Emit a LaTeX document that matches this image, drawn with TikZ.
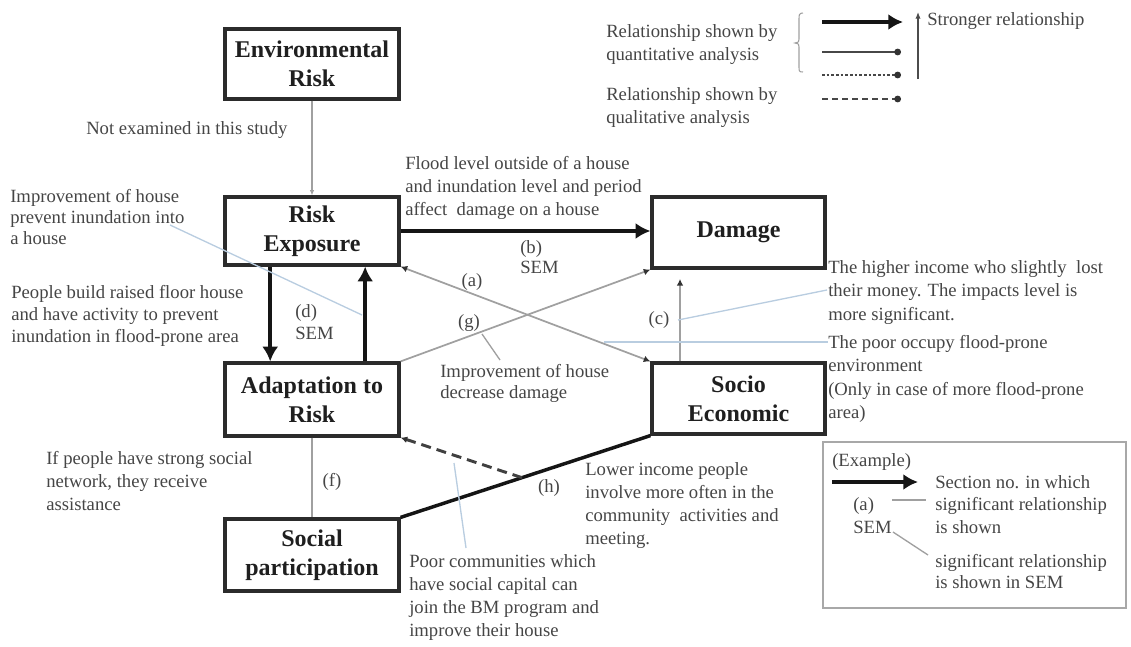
\documentclass[tikz,border=0pt]{standalone}
\usepackage{fontspec}
\setmainfont{Liberation Serif}
\usetikzlibrary{arrows.meta,calc}

\definecolor{boxline}{HTML}{2B2B2B}
\definecolor{notetext}{HTML}{454545}
\definecolor{linkgrey}{HTML}{A0A0A0}
\definecolor{leaderblue}{HTML}{B9CDE0}
\definecolor{strong}{HTML}{151515}
\definecolor{framegrey}{HTML}{A8A8A8}

\tikzset{
  concept/.style={draw=boxline, line width=2.4pt, align=center, inner sep=0pt,
    font=\bfseries\fontsize{18}{21.75}\selectfont, text=black!88},
  note/.style={inner sep=0pt, align=left, text=notetext, font=\fontsize{14}{17.25}\selectfont},
  tag/.style={inner sep=0pt, text=notetext, font=\fontsize{14}{17}\selectfont},
  bigarrow/.style={draw=strong, line width=3pt, -{Latex[length=11pt,width=12pt]}},
  strongline/.style={draw=strong, line width=2.6pt},
  weaklink/.style={draw=linkgrey, line width=1.3pt},
  dottip/.style={-{Latex[length=5pt,width=5pt,color=black!80]}},
  leader/.style={draw=leaderblue, line width=1pt},
  greyleader/.style={draw=linkgrey, line width=1pt},
  keyline/.style={draw=black!72, line width=1.5pt, -{Circle[length=5pt,color=black!80]}},
}

\begin{document}
\begin{tikzpicture}[x=0.75pt,y=-0.75pt]
\useasboundingbox (0,0) rectangle (1131,646);

% ---- concept boxes
\node[concept, minimum width=130.5pt, minimum height=52.5pt]  (env)    at (312,64)      {Environmental\\Risk};
\node[concept, minimum width=130.5pt, minimum height=51pt]    (rexp)   at (312,231)     {Risk\\Exposure};
\node[concept, minimum width=129.75pt, minimum height=53.25pt](dmg)    at (738.5,232.5) {Damage};
\node[concept, minimum width=130.5pt, minimum height=54.75pt] (adapt)  at (312,399.5)   {Adaptation to\\Risk};
\node[concept, minimum width=129.75pt, minimum height=53.25pt](socio)  at (738.5,398.5) {Socio\\Economic};
\node[concept, minimum width=130.5pt, minimum height=54pt]    (social) at (312,555)     {Social\\participation};

% ---- relationships
\draw[weaklink, -{Latex[length=4pt,width=3.5pt]}] (env) -- (rexp);
\draw[bigarrow] (rexp.east) -- (rexp.east -| dmg.west);
\draw[bigarrow] ($(rexp.south west)!0.264!(rexp.south east)$) -- ($(adapt.north west)!0.264!(adapt.north east)$);
\draw[bigarrow] ($(adapt.north west)!0.80!(adapt.north east)$) -- ($(rexp.south west)!0.80!(rexp.south east)$);
\draw[weaklink, {Latex[length=5pt,width=5pt,color=black!80]}-{Latex[length=5pt,width=5pt,color=black!80]}] (rexp.south east) -- (socio.north west);
\draw[weaklink, dottip] (adapt.north east) -- (dmg.south west);
\draw[weaklink, dottip, shorten >=7pt] ($(socio.north west)!0.168!(socio.north east)$) -- ($(dmg.south west)!0.168!(dmg.south east)$);
\draw[weaklink] (adapt) -- (social);
\draw[strongline] (social.north east) -- (socio.south west);
\coordinate (hfoot) at ($(social.north east)!0.486!(socio.south west)$);
\draw[draw=black!75, line width=2.2pt, dash pattern=on 7.5pt off 4.5pt, dottip] (hfoot) -- (adapt.south east);

% ---- section labels
\node[tag] (la) at (472,282) {(a)};
\node[tag] (lg) at (469,323) {(g)};
\node[tag] (lc) at (659,320) {(c)};
\node[tag] (lf) at (332,482) {(f)};
\node[tag] (lh) at (549,488) {(h)};
\node[note, anchor=north west, font=\fontsize{14}{15}\selectfont] (lb) at (520,240) {(b)\\SEM};
\node[note, anchor=north west, font=\fontsize{14}{16.5}\selectfont] (ld) at (295,304) {(d)\\SEM};

% ---- explanations
\node[tag, anchor=west] (notex) at (86,130) {Not examined in this study};
\node[note, anchor=north west] (flood) at (405,156) {Flood level outside of a house\\and inundation level and period\\affect \ damage on a house};
\node[note, anchor=north west, font=\fontsize{14}{15.75}\selectfont] (imp1) at (10,189) {Improvement of house\\prevent inundation into\\a house};
\node[note, anchor=north west, font=\fontsize{14}{16.5}\selectfont] (raised) at (11,285) {People build raised floor house\\and have activity to prevent\\inundation in flood-prone area};
\node[note, anchor=north west, font=\fontsize{14}{15.75}\selectfont] (imp2) at (440,364) {Improvement of house\\decrease damage};
\node[note, anchor=north west, font=\fontsize{14}{17.6}\selectfont] (higher) at (828,260) {The higher income who slightly \ lost\\their money. The impacts level is\\more significant.};
\node[note, anchor=north west, font=\fontsize{14}{17.6}\selectfont] (poor) at (828,335) {The poor occupy flood-prone\\environment\\(Only in case of more flood-prone\\area)};
\node[note, anchor=north west] (network) at (46,451) {If people have strong social\\network, they receive\\assistance};
\node[note, anchor=north west] (lower) at (585,462) {Lower income people\\involve more often in the\\community \ activities and\\meeting.};
\node[note, anchor=north west] (capital) at (409,554) {Poor communities which\\have social capital can\\join the BM program and\\improve their house};

% ---- leader lines from explanations
\coordinate (i1s) at (170,225);
\coordinate (i1e) at (362,315);
\draw[leader] (i1s) -- (i1e);
\coordinate (g1s) at (482,334);
\coordinate (g1e) at (500,360);
\draw[greyleader] (g1s) -- (g1e);
\coordinate (c1s) at (678,320);
\coordinate (c1e) at (827,290);
\draw[leader] (c1s) -- (c1e);
\coordinate (p1s) at (604,342);
\coordinate (p1e) at (828,342);
\draw[leader] (p1s) -- (p1e);
\coordinate (s1s) at (466,548);
\coordinate (s1e) at (454,463);
\draw[leader] (s1s) -- (s1e);

% ---- key to line styles
\node[note, anchor=north west] (quant) at (606,24) {Relationship shown by\\quantitative analysis};
\node[note, anchor=north west] (qual) at (606,87) {Relationship shown by\\qualitative analysis};
\draw[draw=linkgrey, line width=0.8pt] (803,13) .. controls (799,13) and (799,15) .. (799,19) -- (799,39) .. controls (799,42) .. (795,43) .. controls (799,44) .. (799,47) -- (799,67) .. controls (799,71) and (799,72) .. (803,72);
\coordinate (k1s) at (822,22);  \coordinate (k1e) at (903,22);
\coordinate (k2s) at (822,52);  \coordinate (k2e) at (901,52);
\coordinate (k3s) at (822,75);  \coordinate (k3e) at (901,75);
\coordinate (k4s) at (822,99);  \coordinate (k4e) at (901,99);
\draw[draw=strong, line width=3.3pt, -{Latex[length=11pt,width=12pt]}] (k1s) -- (k1e);
\draw[keyline] (k2s) -- (k2e);
\draw[keyline, dash pattern=on 2pt off 1.5pt] (k3s) -- (k3e);
\draw[keyline, dash pattern=on 4.5pt off 3pt] (k4s) -- (k4e);
\coordinate (st1) at (918,79);
\coordinate (st2) at (918,12);
\draw[draw=black!70, line width=0.9pt, -{Latex[length=5pt,width=4pt]}] (st1) -- (st2);
\node[tag, anchor=west] (stronger) at (927,21) {Stronger relationship};

% ---- example panel
\node[draw=framegrey, line width=1.2pt, minimum width=227.25pt, minimum height=124.5pt, inner sep=0pt] (expanel) at (974.5,525) {};
\node[tag, anchor=west] (exlabel) at (832,462) {(Example)};
\coordinate (ex1) at (832,482);
\coordinate (ex2) at (918,482);
\draw[draw=strong, line width=3.3pt, -{Latex[length=11pt,width=12pt]}] (ex1) -- (ex2);
\node[note, anchor=north west] (exsem) at (853,497) {(a)\\SEM};
\node[note, anchor=north west, font=\fontsize{14}{16.9}\selectfont] (exsec) at (935,475) {Section no. in which\\significant relationship\\is shown};
\node[note, anchor=north west, font=\fontsize{14}{15.75}\selectfont] (exsig) at (935,554) {significant relationship\\is shown in SEM};
\coordinate (e1s) at (892,500); \coordinate (e1e) at (926,500);
\coordinate (e2s) at (893,532); \coordinate (e2e) at (928,555);
\draw[greyleader] (e1s) -- (e1e);
\draw[greyleader] (e2s) -- (e2e);
\end{tikzpicture}
\end{document}
